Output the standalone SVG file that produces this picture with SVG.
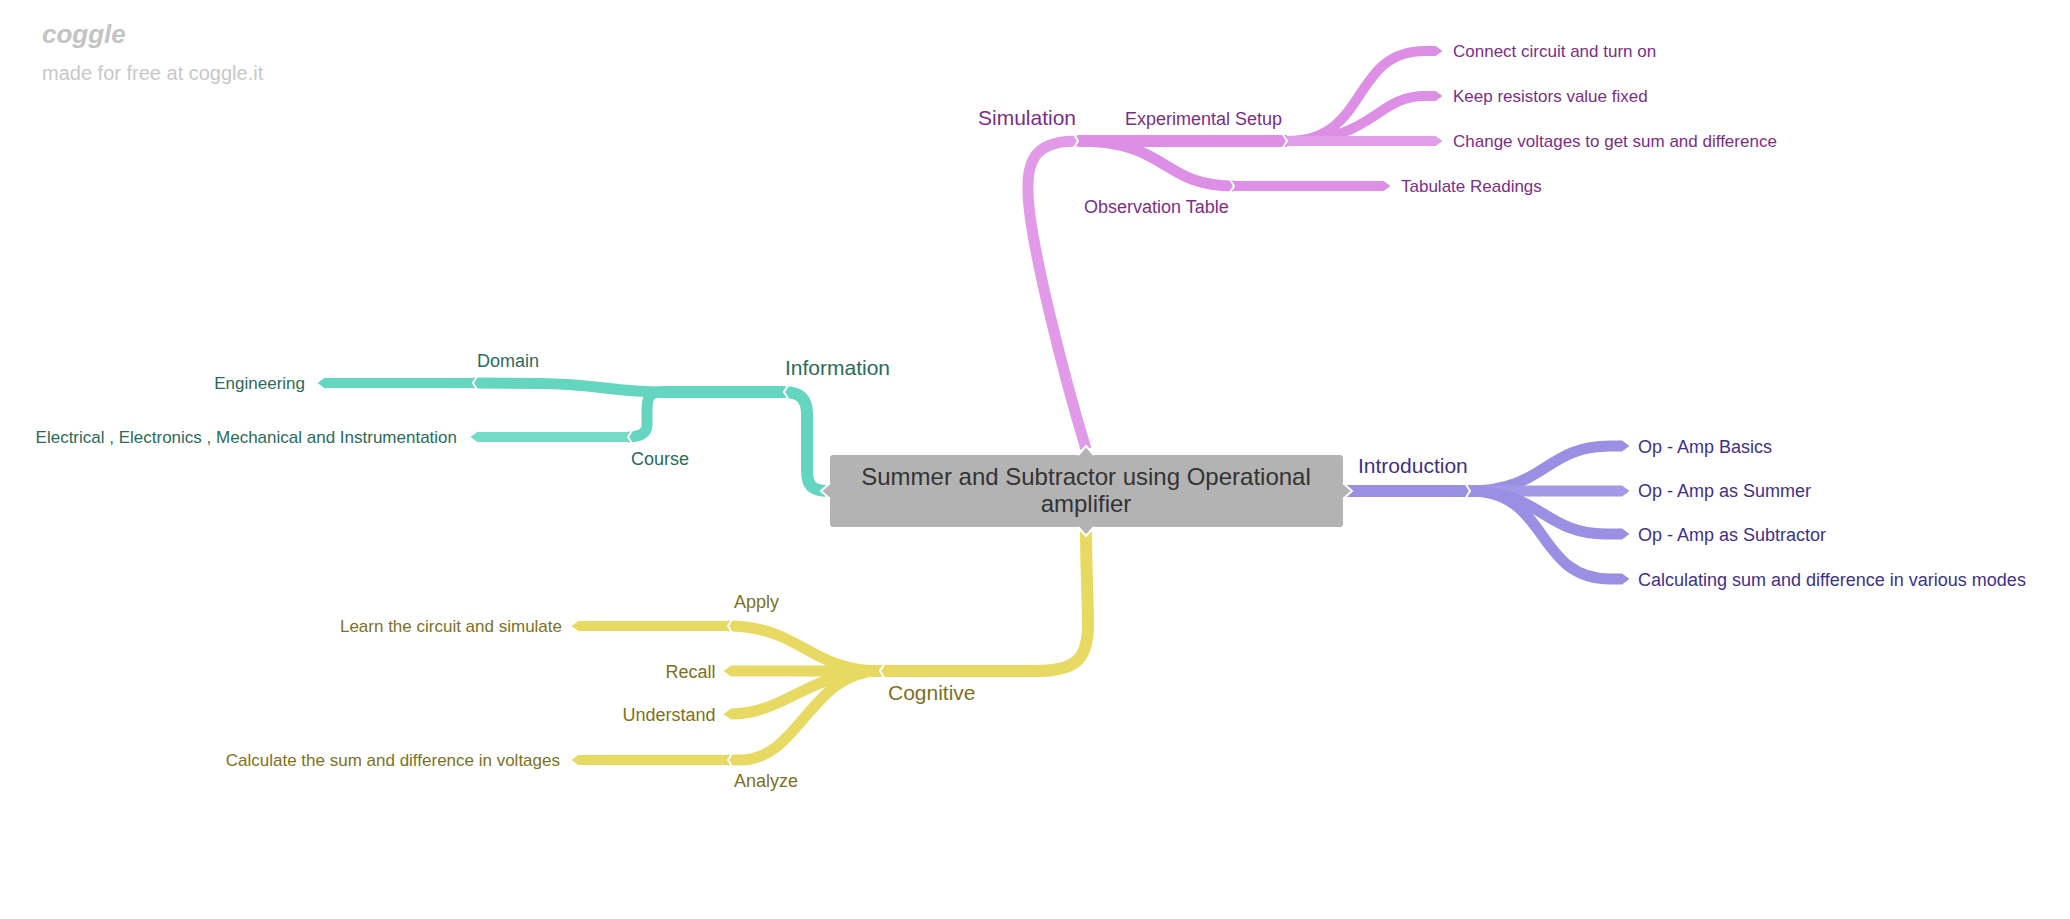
<svg xmlns="http://www.w3.org/2000/svg" width="2070" height="919" viewBox="0 0 2070 919">
<defs>
<style>
text{font-family:"Liberation Sans",Arial,sans-serif}
.br{fill:none;stroke-linecap:butt;stroke-linejoin:round}
.p{stroke:#dc8fe4}.pl{stroke:#e29fe9}.pt{stroke:#e09ae8}
.i{stroke:#9a8fe3}.il{stroke:#a298e6}
.t{stroke:#64d6bf}.tl{stroke:#72dcc7}
.y{stroke:#e8d962}
.w1{stroke-width:12}.w2{stroke-width:11}.w3{stroke-width:10}
.ch{fill:none;stroke:#fff;stroke-width:2;stroke-linejoin:miter}
.tp{fill:#7b2e87}.ti{fill:#3d318a}.tt{fill:#2a6b5b}.ty{fill:#7c7122}
.f21{font-size:21px}.f18{font-size:18px}.f17{font-size:17px}
.end{text-anchor:end}
</style>
<marker id="mp" viewBox="0 0 8 12" refX="0" refY="6" markerWidth="8" markerHeight="12" markerUnits="userSpaceOnUse" orient="auto"><path d="M0,0.5L7.5,6L0,11.5z" fill="#dc8fe4"/></marker>
<marker id="mpl" viewBox="0 0 8 12" refX="0" refY="6" markerWidth="8" markerHeight="12" markerUnits="userSpaceOnUse" orient="auto"><path d="M0,0.5L7.5,6L0,11.5z" fill="#e29fe9"/></marker>
<marker id="mi" viewBox="0 0 8 12" refX="0" refY="6" markerWidth="8" markerHeight="12" markerUnits="userSpaceOnUse" orient="auto"><path d="M0,0.5L7.5,6L0,11.5z" fill="#9a8fe3"/></marker>
<marker id="mil" viewBox="0 0 8 12" refX="0" refY="6" markerWidth="8" markerHeight="12" markerUnits="userSpaceOnUse" orient="auto"><path d="M0,0.5L7.5,6L0,11.5z" fill="#a298e6"/></marker>
<marker id="mt" viewBox="0 0 8 12" refX="0" refY="6" markerWidth="8" markerHeight="12" markerUnits="userSpaceOnUse" orient="auto"><path d="M0,0.5L7.5,6L0,11.5z" fill="#64d6bf"/></marker>
<marker id="mtl" viewBox="0 0 8 12" refX="0" refY="6" markerWidth="8" markerHeight="12" markerUnits="userSpaceOnUse" orient="auto"><path d="M0,0.5L7.5,6L0,11.5z" fill="#72dcc7"/></marker>
<marker id="my" viewBox="0 0 8 12" refX="0" refY="6" markerWidth="8" markerHeight="12" markerUnits="userSpaceOnUse" orient="auto"><path d="M0,0.5L7.5,6L0,11.5z" fill="#e8d962"/></marker>
</defs>
<rect width="2070" height="919" fill="#fff"/>

<g id="watermark">
<text x="42" y="43" font-family="Liberation Serif" font-style="italic" font-weight="bold" font-size="26" fill="#c4c4c4">coggle</text>
<text x="42" y="80" font-size="20" fill="#c8c8c8">made for free at coggle.it</text>
</g>

<g id="connectors">
<!-- Simulation -->
<path class="br pt w2" d="M1086,449 C1068,390 1028,240 1028,190 C1027,155 1040,141 1078,141"/>
<path class="br p w1" d="M1078,141 L1287,141"/>
<path class="br p w3" d="M1287,141 C1370,141 1350,51 1425,51 L1435,51" marker-end="url(#mp)"/>
<path class="br p w3" d="M1287,141 C1375,141 1375,96 1425,96 L1435,96" marker-end="url(#mp)"/>
<path class="br pl w3" d="M1287,141 L1435,141" marker-end="url(#mpl)"/>
<path class="br p w2" d="M1078,141 C1170,141 1160,186 1234,186"/>
<path class="br p w3" d="M1234,186 L1383,186" marker-end="url(#mp)"/>
<polyline class="ch" points="1074,134.5 1078,141 1074,147.5"/>
<polyline class="ch" points="1283,134.5 1287,141 1283,147.5"/>
<polyline class="ch" points="1230,179.5 1234,186 1230,192.5"/>
<!-- Introduction -->
<path class="br i w1" d="M1343,491 L1470,491"/>
<path class="br i w2" d="M1470,491 C1545,491 1545,446 1610,446 L1622,446" marker-end="url(#mi)"/>
<path class="br il w2" d="M1470,491 L1622,491" marker-end="url(#mil)"/>
<path class="br i w2" d="M1470,491 C1540,491 1545,534 1605,534 L1622,534" marker-end="url(#mi)"/>
<path class="br i w2" d="M1470,491 C1550,491 1535,579 1610,579 L1622,579" marker-end="url(#mi)"/>
<polyline class="ch" points="1466,484.5 1470,491 1466,497.5"/>
<!-- Information -->
<path class="br t w1" d="M829,491 C812,491 807,486 807,470 L807,414 C807,399 800,392 784,392"/>
<path class="br t w1" d="M784,392 L660,392"/>
<path class="br t w2" d="M665,392 C610,392 600,384 540,383.5 L473,383"/>
<path class="br t w3" d="M473,383 L325,383" marker-end="url(#mt)"/>
<path class="br t w2" d="M662,392 C649,392 647,398 647,410 L647,425 C647,433 640,437 628,437"/>
<path class="br tl w3" d="M628,437 L478,437" marker-end="url(#mtl)"/>
<polyline class="ch" points="788,385.5 784,392 788,398.5"/>
<polyline class="ch" points="477,376.5 473,383 477,389.5"/>
<polyline class="ch" points="632,430.5 628,437 632,443.5"/>
<!-- Cognitive -->
<path class="br y w1" d="M1086,527 C1086,570 1088,600 1088,625 C1088,660 1075,671 1035,671 L880,671"/>
<path class="br y w2" d="M880,671 C810,671 800,626 728,626"/>
<path class="br y w3" d="M728,626 L579,626" marker-end="url(#my)"/>
<path class="br y w2" d="M880,671 L731,671" marker-end="url(#my)"/>
<path class="br y w2" d="M880,671 C810,671 785,714 731,714" marker-end="url(#my)"/>
<path class="br y w2" d="M880,671 C810,671 800,760 740,760 L728,760"/>
<path class="br y w3" d="M728,760 L579,760" marker-end="url(#my)"/>
<polyline class="ch" points="884,664.5 880,671 884,677.5"/>
<polyline class="ch" points="732,619.5 728,626 732,632.5"/>
<polyline class="ch" points="732,753.5 728,760 732,766.5"/>
</g>

<g id="root">
<rect x="830" y="455" width="513" height="72" rx="3" fill="#b3b3b3"/>
<polygon points="1079,455.5 1086,447 1093,455.5" fill="#b3b3b3"/>
<polyline class="ch" points="1078,455 1086,446 1094,455"/>
<polygon points="1079,526.5 1086,535 1093,526.5" fill="#b3b3b3"/>
<polyline class="ch" points="1078,527 1086,536 1094,527"/>
<polygon points="830.5,484 822,491 830.5,498" fill="#b3b3b3"/>
<polyline class="ch" points="830,483 821,491 830,499"/>
<polygon points="1342.5,484 1351,491 1342.5,498" fill="#b3b3b3"/>
<polyline class="ch" points="1343,483 1352,491 1343,499"/>
<text x="1086" y="485" font-size="24" fill="#333" text-anchor="middle">Summer and Subtractor using Operational</text>
<text x="1086" y="512" font-size="24" fill="#333" text-anchor="middle">amplifier</text>
</g>

<g id="simulation"><text class="tp f21" x="978" y="125">Simulation</text></g>
<g id="experimental-setup"><text class="tp f18" x="1125" y="125">Experimental Setup</text></g>
<g id="connect"><text class="tp f17" x="1453" y="57">Connect circuit and turn on</text></g>
<g id="keep"><text class="tp f17" x="1453" y="102">Keep resistors value fixed</text></g>
<g id="change"><text class="tp f17" x="1453" y="147">Change voltages to get sum and difference</text></g>
<g id="observation-table"><text class="tp f18" x="1084" y="213">Observation Table</text></g>
<g id="tabulate"><text class="tp f17" x="1401" y="192">Tabulate Readings</text></g>

<g id="introduction"><text class="ti f21" x="1358" y="473">Introduction</text></g>
<g id="basics"><text class="ti f18" x="1638" y="452.5">Op - Amp Basics</text></g>
<g id="summer"><text class="ti f18" x="1638" y="497">Op - Amp as Summer</text></g>
<g id="subtractor"><text class="ti f18" x="1638" y="540.5">Op - Amp as Subtractor</text></g>
<g id="calculating"><text class="ti f18" x="1638" y="585.5">Calculating sum and difference in various modes</text></g>

<g id="information"><text class="tt f21" x="785" y="375">Information</text></g>
<g id="domain"><text class="tt f18" x="477" y="367">Domain</text></g>
<g id="engineering"><text class="tt f17 end" x="305" y="389">Engineering</text></g>
<g id="course"><text class="tt f18" x="631" y="465">Course</text></g>
<g id="electrical"><text class="tt f17 end" x="457" y="443">Electrical , Electronics , Mechanical and Instrumentation</text></g>

<g id="cognitive"><text class="ty f21" x="888" y="700">Cognitive</text></g>
<g id="apply"><text class="ty f18" x="734" y="608">Apply</text></g>
<g id="learn"><text class="ty f17 end" x="562" y="632">Learn the circuit and simulate</text></g>
<g id="recall"><text class="ty f18 end" x="715.5" y="677.5">Recall</text></g>
<g id="understand"><text class="ty f18 end" x="715.5" y="720.5">Understand</text></g>
<g id="analyze"><text class="ty f18" x="734" y="787">Analyze</text></g>
<g id="calculate"><text class="ty f17 end" x="560" y="766">Calculate the sum and difference in voltages</text></g>
</svg>
